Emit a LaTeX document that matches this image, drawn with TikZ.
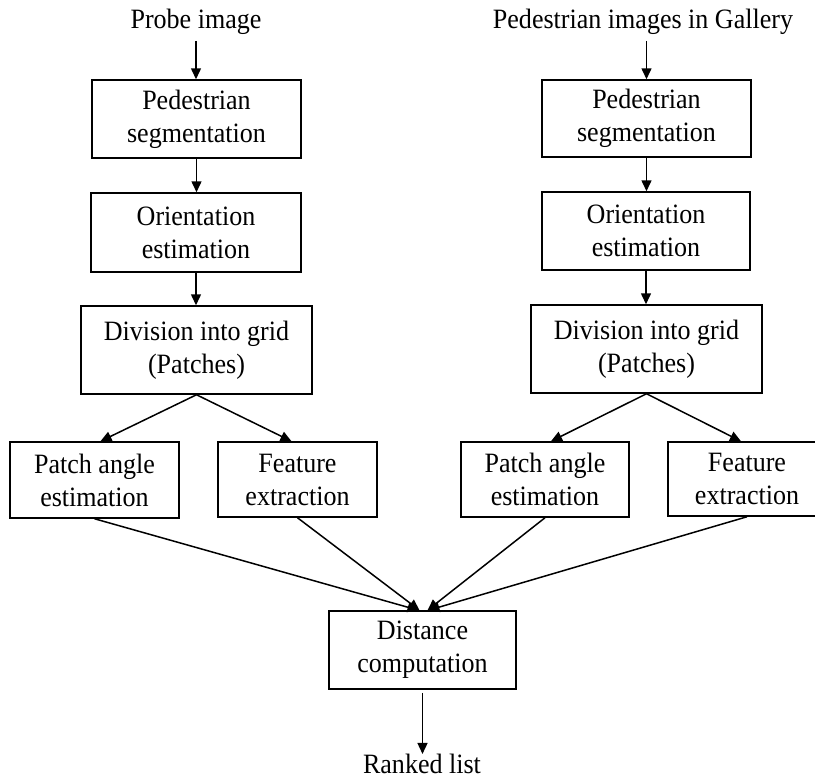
\documentclass[tikz,border=0pt]{standalone}
\usepackage{fontspec}
\setmainfont{Liberation Serif}[FakeStretch=0.93]
\usetikzlibrary{arrows.meta}
\begin{document}
\begin{tikzpicture}[x=1pt,y=-1pt,
 box/.style={draw, line width=1.5pt, align=center, inner sep=0pt, font=\fontsize{28}{33}\selectfont},
 lbl/.style={inner sep=0pt, font=\fontsize{28}{33}\selectfont},
 arr/.style={-{Triangle[length=11pt,width=10pt]}, line width=1.5pt}]
\clip (0,0) rectangle (815,780);
% left column
\node[lbl] (probe) at (196,22) {Probe image};
\node[box, minimum width=209pt, minimum height=78pt] (L1) at (196.5,119) {Pedestrian\\segmentation};
\node[box, minimum width=210pt, minimum height=79pt] (L2) at (196,232.5) {Orientation\\estimation};
\node[box, minimum width=231pt, minimum height=88pt] (L3) at (196.5,350) {Division into grid\\(Patches)};
\node[box, minimum width=169pt, minimum height=76pt] (LP) at (94.5,480) {Patch angle\\estimation};
\node[box, minimum width=159pt, minimum height=75pt] (LF) at (297.5,479.5) {Feature\\extraction};
% right column
\node[lbl] (gal) at (643,22) {Pedestrian images in Gallery};
\node[box, minimum width=209pt, minimum height=77pt] (R1) at (646.5,118.5) {Pedestrian\\segmentation};
\node[box, minimum width=208pt, minimum height=78pt] (R2) at (646,231) {Orientation\\estimation};
\node[box, minimum width=231pt, minimum height=88pt] (R3) at (646.5,349) {Division into grid\\(Patches)};
\node[box, minimum width=168pt, minimum height=75pt] (RP) at (545,479.5) {Patch angle\\estimation};
\node[box, minimum width=158pt, minimum height=74pt] (RF) at (747,479) {Feature\\extraction};
% bottom
\node[box, minimum width=187pt, minimum height=78pt] (D) at (422.5,650) {Distance\\computation};
\node[lbl] (rank) at (422,764) {Ranked list};
% arrows left
\draw[arr, shorten <=6pt] (probe.south) -- (probe.south |- L1.north);
\draw[arr] (L1.south) -- (L1.south |- L2.north);
\draw[arr] (L2.south) -- (L2.south |- L3.north);
\draw[arr] (L3.south) -- ([xshift=6pt]LP.north);
\draw[arr] (L3.south) -- ([xshift=-6pt]LF.north);
% arrows right
\draw[arr, shorten <=6pt] (R1.north |- gal.south) -- (R1.north);
\draw[arr] (R1.south) -- (R1.south |- R2.north);
\draw[arr] (R2.south) -- (R2.south |- R3.north);
\draw[arr] (R3.south) -- ([xshift=6pt]RP.north);
\draw[arr] (R3.south) -- ([xshift=-6pt]RF.north);
% converging
\draw[arr] (LP.south) -- ([xshift=-4pt]D.north);
\draw[arr] (LF.south) -- ([xshift=-3pt]D.north);
\draw[arr] (RP.south) -- ([xshift=5pt]D.north);
\draw[arr] (RF.south) -- ([xshift=6pt]D.north);
\draw[arr, shorten <=3pt] (D.south) -- (D.south |- rank.north);
\end{tikzpicture}
\end{document}
